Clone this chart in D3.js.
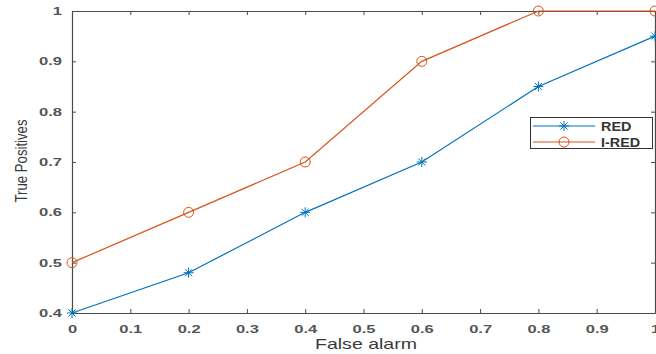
<!DOCTYPE html>
<html>
<head>
<meta charset="utf-8">
<script src="https://cdn.jsdelivr.net/npm/d3@7"></script>
<style>
  body { margin: 0; background: #fff; }
  svg { display: block; }
  text { font-family: "Liberation Sans", Arial, sans-serif; }
</style>
</head>
<body>
<div id="chart"></div>
<script>
// chart data
var falseAlarm = [0, 0.2, 0.4, 0.6, 0.8, 1.0];
var redValues = [0.4, 0.48, 0.6, 0.7, 0.85, 0.95];
var iredValues = [0.5, 0.6, 0.7, 0.9, 1.0, 1.0];
var seriesNames = ["RED", "I-RED"];
var xTicks = [0, 0.1, 0.2, 0.3, 0.4, 0.5, 0.6, 0.7, 0.8, 0.9, 1];
var yTicks = [0.4, 0.5, 0.6, 0.7, 0.8, 0.9, 1];

var width = 656, height = 354;
var plot = {left: 72, right: 655, top: 11, bottom: 313};
var axisColor = "#4a4a4a";
var colors = ["#0072BD", "#D95319"];

var svg = d3.select("#chart").append("svg")
    .attr("width", width)
    .attr("height", height);

var x = d3.scaleLinear().domain([0, 1]).range([plot.left, plot.right]);
var y = d3.scaleLinear().domain([0.4, 1]).range([plot.bottom, plot.top]);

function fmt(d) { return d === 0 ? "0" : d === 1 ? "1" : d3.format(".1f")(d); }

// the picture's text is stretched, widen/narrow glyphs to match
function widen(sel, k) {
  sel.each(function() {
    var w = this.getComputedTextLength();
    d3.select(this).attr("textLength", w * k).attr("lengthAdjust", "spacingAndGlyphs");
  });
}

// axes (matlab style: ticks pointing inward, box on)
var xAxis = d3.axisBottom(x).tickValues(xTicks).tickFormat(fmt).tickSizeInner(-4).tickSizeOuter(0).tickPadding(10);
var yAxis = d3.axisLeft(y).tickValues(yTicks).tickFormat(fmt).tickSizeInner(-4).tickSizeOuter(0).tickPadding(10);
var xTop = d3.axisTop(x).tickValues(xTicks).tickFormat("").tickSizeInner(-4).tickSizeOuter(0);
var yRight = d3.axisRight(y).tickValues(yTicks).tickFormat("").tickSizeInner(-4).tickSizeOuter(0);

function style(g) {
  g.select(".domain").attr("stroke", axisColor).attr("stroke-width", 1.2);
  g.selectAll(".tick line").attr("stroke", axisColor);
  g.selectAll(".tick text").attr("fill", "#555")
    .style("font-size", "11px").style("font-weight", "bold");
}

var gx = svg.append("g").attr("transform", "translate(0," + plot.bottom + ")").call(xAxis).call(style);
gx.selectAll(".tick text").attr("dy", "0.95em").call(widen, 1.5);
var gy = svg.append("g").attr("transform", "translate(" + plot.left + ",0)").call(yAxis).call(style);
gy.selectAll(".tick text").call(widen, 1.5);
svg.append("g").attr("transform", "translate(0," + plot.top + ")").call(xTop).call(style);
svg.append("g").attr("transform", "translate(" + plot.right + ",0)").call(yRight).call(style);

// axis labels
svg.append("text")
    .attr("x", 366).attr("y", 349)
    .attr("text-anchor", "middle")
    .attr("fill", "#3a3a3a")
    .style("font-size", "15px")
    .attr("textLength", 102).attr("lengthAdjust", "spacingAndGlyphs")
    .text("False alarm");

svg.append("text")
    .attr("transform", "translate(27,161) rotate(-90)")
    .attr("text-anchor", "middle")
    .attr("fill", "#3a3a3a")
    .style("font-size", "16px")
    .attr("textLength", 83).attr("lengthAdjust", "spacingAndGlyphs")
    .text("True Positives");

var line = d3.line().x(function(d) { return x(d[0]); }).y(function(d) { return y(d[1]); });

function star(g, cx, cy, color) {
  var r = 5;
  for (var i = 0; i < 4; i++) {
    var a = i * Math.PI / 4;
    g.append("line")
      .attr("x1", cx - r * Math.cos(a)).attr("y1", cy - r * Math.sin(a))
      .attr("x2", cx + r * Math.cos(a)).attr("y2", cy + r * Math.sin(a))
      .attr("stroke", color).attr("stroke-width", 1);
  }
}
function circle(g, cx, cy, color) {
  g.append("circle").attr("cx", cx).attr("cy", cy).attr("r", 5)
    .attr("fill", "none").attr("stroke", color).attr("stroke-width", 1);
}

var series = [redValues, iredValues];
var markers = [star, circle];

series.forEach(function(vals, i) {
  var pts = falseAlarm.map(function(fa, j) { return [fa, vals[j]]; });
  var g = svg.append("g");
  g.append("path").datum(pts).attr("d", line)
    .attr("fill", "none").attr("stroke", colors[i]).attr("stroke-width", 1.2);
  pts.forEach(function(p) { markers[i](g, x(p[0]), y(p[1]), colors[i]); });
});

// legend
var lg = svg.append("g");
lg.append("rect").attr("x", 530.5).attr("y", 117.5).attr("width", 122).attr("height", 31)
  .attr("fill", "#fff").attr("stroke", "#333").attr("stroke-width", 1);
seriesNames.forEach(function(name, i) {
  var ly = 126 + i * 16;
  lg.append("line").attr("x1", 533).attr("x2", 595).attr("y1", ly).attr("y2", ly)
    .attr("stroke", colors[i]).attr("stroke-width", 1.2);
  markers[i](lg, 564, ly, colors[i]);
  lg.append("text").attr("x", 601).attr("y", ly + 5)
    .attr("fill", "#333").style("font-size", "12px").style("font-weight", "bold")
    .text(name)
    .call(widen, 1.2);
});
</script>
</body>
</html>
